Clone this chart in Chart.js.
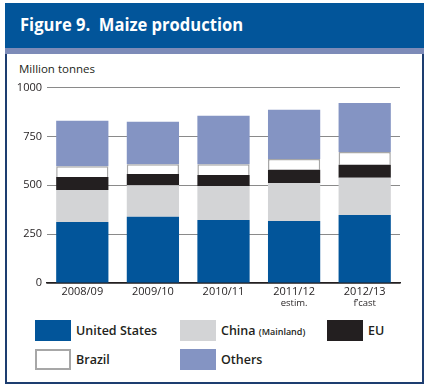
<!DOCTYPE html>
<html>
<head>
<meta charset="utf-8">
<title>Maize production</title>
<script src="https://cdn.jsdelivr.net/npm/chart.js@4.4.1/dist/chart.umd.min.js"></script>
<style>
  body { margin: 0; background: #fff; font-family: "Open Sans", sans-serif; }
  .page { position: relative; width: 428px; height: 389px; overflow: hidden; }
  .banner { position: absolute; left: 5px; top: 3px; width: 419px; height: 45px; background: #02559a; }
  .band { position: absolute; left: 5px; top: 48px; width: 419px; height: 6px; background: #7d8bb8; }
  .frame { position: absolute; left: 5px; top: 54px; width: 415px; height: 328px;
           border: 2px solid #1d3d70; border-top: none; }
  .title { position: absolute; left: 20px; top: 12px; color: #fff; font-weight: 700; font-size: 18px;
           white-space: pre; transform: scaleX(0.92); transform-origin: left top; }
  .unit { position: absolute; left: 19px; top: 61px; font-size: 11.5px; color: #231f20; }
  .chartbox { position: absolute; left: 5px; top: 76px; width: 412px; height: 232px; }
  .leg { position: absolute; font-size: 12.5px; font-weight: 600; color: #231f20; line-height: 21px; white-space: nowrap; }
  .leg i { position: absolute; left: 0; top: 0; width: 36px; height: 21px; box-sizing: border-box; }
  .leg span { position: absolute; left: 41px; top: 0; }
  .leg small { font-size: 9px; font-weight: 600; }
</style>
</head>
<body>
<div class="page">
  <div class="banner"></div>
  <div class="band"></div>
  <div class="frame"></div>
  <div class="title">Figure 9.  Maize production</div>
  <div class="unit">Million tonnes</div>
  <div class="chartbox"><canvas id="maize"></canvas></div>
  <div id="legend"></div>
</div>
<script>
const seasons = ['2008/09', '2009/10', '2010/11', '2011/12', '2012/13'];
const seasonNotes = ['', '', '', 'estim.', 'f\u2019cast'];
const unitedStates = [312, 339, 322, 317, 348];
const china = [164, 161, 175, 195, 190];
const eu = [67, 58, 56, 67, 67];
const brazil = [55, 50, 55, 55, 66];
const others = [232, 217, 248, 253, 250];
const yTicks = [0, 250, 500, 750, 1000];

const seriesNames = ['United States', 'China', 'EU', 'Brazil', 'Others'];
const seriesNotes = ['', '(Mainland)', '', '', ''];

// styles kept apart from the numbers
const fills = ['#02559a', '#d3d4d6', '#231f20', '#ffffff', '#8494c3'];
const edges = [null, null, null, '#a7a7a7', null];
const legendPos = [[35, 320], [180, 320], [327, 320], [35, 349], [180, 349]];

const values = [unitedStates, china, eu, brazil, others];

const datasets = values.map((v, i) => ({
  label: seriesNames[i],
  data: v,
  backgroundColor: fills[i],
  borderColor: edges[i] || fills[i],
  borderWidth: edges[i] ? { left: 1.5, right: 1.5, top: 1.5, bottom: 0 } : 0,
  borderSkipped: false,
  barPercentage: 0.74,
  categoryPercentage: 1.0
}));

// second, smaller line under the year labels
const notesPlugin = {
  id: 'notes',
  afterDraw(chart) {
    const x = chart.scales.x;
    const ctx = chart.ctx;
    ctx.save();
    ctx.font = '9.5px "Open Sans", sans-serif';
    ctx.fillStyle = '#231f20';
    ctx.textAlign = 'center';
    ctx.textBaseline = 'middle';
    seasonNotes.forEach((n, i) => {
      if (n) ctx.fillText(n, x.getPixelForTick(i), chart.chartArea.bottom + 20.5);
    });
    ctx.restore();
  }
};

new Chart(document.getElementById('maize'), {
  type: 'bar',
  data: { labels: seasons, datasets: datasets },
  options: {
    responsive: true,
    maintainAspectRatio: false,
    animation: false,
    layout: { padding: { top: 10, right: 17, left: 0, bottom: 0 } },
    plugins: { legend: { display: false }, tooltip: { enabled: false } },
    scales: {
      x: {
        stacked: true,
        grid: { display: false, drawTicks: false },
        border: { color: '#231f20', width: 1.5 },
        ticks: { color: '#231f20', font: { family: 'Open Sans', size: 11 }, padding: 2, maxRotation: 0 },
        afterFit(s) { s.height = 25; }
      },
      y: {
        stacked: true,
        min: 0,
        max: 1000,
        afterBuildTicks(s) { s.ticks = yTicks.map(v => ({ value: v })); },
        grid: { color: '#8a8a8a', lineWidth: 1, drawTicks: false },
        border: { display: false },
        ticks: { color: '#231f20', font: { family: 'Open Sans', size: 11 }, padding: 5,
                 callback: v => String(v) },
        afterFit(s) { s.width = 42; }
      }
    }
  },
  plugins: [notesPlugin]
});

const legend = document.getElementById('legend');
seriesNames.forEach((name, i) => {
  const item = document.createElement('div');
  item.className = 'leg';
  item.style.left = legendPos[i][0] + 'px';
  item.style.top = legendPos[i][1] + 'px';
  const box = document.createElement('i');
  box.style.background = fills[i];
  if (edges[i]) box.style.border = '2.5px solid ' + edges[i];
  const txt = document.createElement('span');
  txt.textContent = name + (seriesNotes[i] ? ' ' : '');
  if (seriesNotes[i]) {
    const s = document.createElement('small');
    s.textContent = seriesNotes[i];
    txt.appendChild(s);
  }
  item.appendChild(box);
  item.appendChild(txt);
  legend.appendChild(item);
});
</script>
</body>
</html>
